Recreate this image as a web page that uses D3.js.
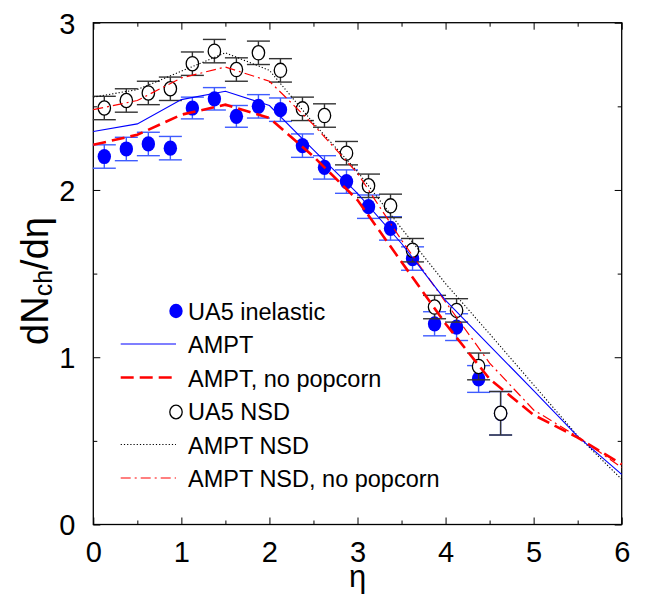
<!DOCTYPE html>
<html><head><meta charset="utf-8">
<script src="https://cdn.jsdelivr.net/npm/d3@7"></script>
<style>
html,body{margin:0;padding:0;background:#fff;}
svg{display:block;font-family:"Liberation Sans",Arial,Helvetica,sans-serif;}
</style></head>
<body>
<svg id="chart" width="655" height="595"></svg>
<script>
// ---- data ----
const etaModel = [0, 0.5, 1, 1.5, 2, 2.5, 3, 3.5, 4, 4.5, 5, 5.5, 6];
const amptInel = [2.35, 2.395, 2.54, 2.59, 2.505, 2.24, 1.98, 1.68, 1.34, 1.07, 0.80, 0.527, 0.30];
const amptNoPopcorn = [2.27, 2.33, 2.45, 2.51, 2.43, 2.20, 1.94, 1.57, 1.20, 0.87, 0.655, 0.52, 0.36];
const amptNSD = [2.555, 2.60, 2.71, 2.82, 2.715, 2.40, 2.11, 1.77, 1.44, 1.14, 0.835, 0.53, 0.27];
const amptNSDNoPopcorn = [2.48, 2.535, 2.67, 2.735, 2.65, 2.39, 2.10, 1.70, 1.33, 0.965, 0.685, 0.525, 0.34];

const etaData = [0.125, 0.375, 0.625, 0.875, 1.125, 1.375, 1.625, 1.875, 2.125, 2.375,
                 2.625, 2.875, 3.125, 3.375, 3.625, 3.875, 4.125, 4.375, 4.625];
const ua5Inel = [2.20, 2.245, 2.275, 2.25, 2.49, 2.545, 2.44, 2.50, 2.48, 2.265,
                 2.135, 2.05, 1.90, 1.77, 1.59, 1.20, 1.18, 0.87, 0.665];
const ua5InelErr = [0.07, 0.07, 0.07, 0.07, 0.065, 0.067, 0.065, 0.07, 0.07, 0.07,
                    0.07, 0.07, 0.07, 0.07, 0.07, 0.072, 0.08, 0.08, 0.13];
const ua5NSD = [2.49, 2.535, 2.58, 2.605, 2.755, 2.83, 2.72, 2.82, 2.715, 2.485,
                2.445, 2.22, 2.025, 1.905, 1.64, 1.30, 1.28, 0.945, 0.665];
const ua5NSDErr = [0.07, 0.07, 0.07, 0.07, 0.07, 0.07, 0.07, 0.07, 0.07, 0.07,
                   0.07, 0.07, 0.07, 0.07, 0.07, 0.07, 0.07, 0.08, 0.13];

const xMajorTicks = [0, 1, 2, 3, 4, 5, 6];
const xMinorTicks = [0.5, 1.5, 2.5, 3.5, 4.5, 5.5];
const yMajorTicks = [0, 1, 2, 3];
const yMinorTicks = [0.5, 1.5, 2.5];
const legendLabels = ["UA5 inelastic", "AMPT", "AMPT, no popcorn", "UA5 NSD", "AMPT NSD", "AMPT NSD, no popcorn"];

// ---- layout ----
const L = 93.3, R = 621.7, T = 22.7, B = 524.5;
const svg = d3.select("#chart");
const x = d3.scaleLinear().domain([0, 6]).range([L, R]);
const y = d3.scaleLinear().domain([0, 3]).range([B, T]);
const FONT = '"Liberation Sans",Arial,Helvetica,sans-serif';

// axes (ticks inward on all four sides)
function styleAxis(g) {
  g.select(".domain").remove();
  g.selectAll(".tick line").attr("stroke", "#000").attr("stroke-width", 1);
}
svg.append("g").attr("transform", `translate(0,${B})`)
  .call(d3.axisBottom(x).tickValues(xMajorTicks).tickSize(-7).tickPadding(14).tickFormat(d3.format("d")))
  .call(styleAxis)
  .call(g => g.selectAll("text").attr("font-size", 29).attr("font-family", FONT).attr("fill", "#000")
    .attr("dy", null).attr("y", 37.5));
svg.append("g").attr("transform", `translate(0,${B})`)
  .call(d3.axisBottom(x).tickValues(xMinorTicks).tickSize(-4).tickFormat(""))
  .call(styleAxis);
svg.append("g").attr("transform", `translate(0,${T})`)
  .call(d3.axisTop(x).tickValues(xMajorTicks).tickSize(-7).tickFormat(""))
  .call(styleAxis);
svg.append("g").attr("transform", `translate(0,${T})`)
  .call(d3.axisTop(x).tickValues(xMinorTicks).tickSize(-4).tickFormat(""))
  .call(styleAxis);
svg.append("g").attr("transform", `translate(${L},0)`)
  .call(d3.axisLeft(y).tickValues(yMajorTicks).tickSize(-7).tickFormat(d3.format("d")))
  .call(styleAxis)
  .call(g => g.selectAll("text").attr("font-size", 29).attr("font-family", FONT).attr("fill", "#000")
    .attr("x", -18).attr("dy", "0.36em"));
svg.append("g").attr("transform", `translate(${L},0)`)
  .call(d3.axisLeft(y).tickValues(yMinorTicks).tickSize(-4).tickFormat(""))
  .call(styleAxis);
svg.append("g").attr("transform", `translate(${R},0)`)
  .call(d3.axisRight(y).tickValues(yMajorTicks).tickSize(-7).tickFormat(""))
  .call(styleAxis);
svg.append("g").attr("transform", `translate(${R},0)`)
  .call(d3.axisRight(y).tickValues(yMinorTicks).tickSize(-4).tickFormat(""))
  .call(styleAxis);

// frame
svg.append("rect").attr("x", L).attr("y", T).attr("width", R - L).attr("height", B - T)
  .attr("fill", "none").attr("stroke", "#000").attr("stroke-width", 1.3);

// ---- data points ----
const CAP = 11.5, RX = 6.7, RY = 7.6;
function errorBars(vals, errs, color) {
  const g = svg.append("g").attr("stroke", color).attr("stroke-width", 1.4).attr("fill", "none");
  etaData.forEach((e, i) => {
    const cx = x(e), y1 = y(vals[i] + errs[i]), y2 = y(vals[i] - errs[i]);
    g.append("line").attr("x1", cx).attr("x2", cx).attr("y1", y1).attr("y2", y2);
    g.append("line").attr("x1", cx - CAP).attr("x2", cx + CAP).attr("y1", y1).attr("y2", y1);
    g.append("line").attr("x1", cx - CAP).attr("x2", cx + CAP).attr("y1", y2).attr("y2", y2);
  });
}
errorBars(ua5Inel, ua5InelErr, "#3f5cff");
svg.append("g").selectAll("ellipse").data(etaData).join("ellipse")
  .attr("cx", d => x(d)).attr("cy", (d, i) => y(ua5Inel[i]))
  .attr("rx", RX).attr("ry", RY).attr("fill", "#0000ff");
errorBars(ua5NSD, ua5NSDErr, "#333333");
svg.append("g").selectAll("ellipse").data(etaData).join("ellipse")
  .attr("cx", d => x(d)).attr("cy", (d, i) => y(ua5NSD[i]))
  .attr("rx", RX - 0.5).attr("ry", RY - 0.5).attr("fill", "#fff").attr("stroke", "#000").attr("stroke-width", 1.3);

// ---- model curves ----
const line = d3.line().x((d, i) => x(etaModel[i])).y(d => y(d));
const styles = {
  ampt:       {color: "#0000ff", width: 1.1, dash: null},
  noPop:      {color: "#ff0000", width: 2.6, dash: "13,6"},
  nsd:        {color: "#000000", width: 1.1, dash: "1.2,2"},
  nsdNoPop:   {color: "#ff0000", width: 1.2, dash: "10,4,2,4"}
};
function curve(vals, s) {
  svg.append("path").datum(vals).attr("d", line).attr("fill", "none")
    .attr("stroke", s.color).attr("stroke-width", s.width)
    .attr("stroke-dasharray", s.dash);
}
curve(amptNSD, styles.nsd);
curve(amptNSDNoPopcorn, styles.nsdNoPop);
curve(amptInel, styles.ampt);
curve(amptNoPopcorn, styles.noPop);

// ---- legend ----
const lg = svg.append("g");
const rowY = i => 319.5 + i * 33.5;
const lx1 = 120.7, lx2 = 176, tx = 188;
legendLabels.forEach((t, i) => {
  lg.append("text").attr("x", tx).attr("y", rowY(i)).attr("font-size", 23.5)
    .attr("font-family", FONT).attr("fill", "#000").text(t);
});
lg.append("ellipse").attr("cx", lx2).attr("cy", rowY(0) - 8.5).attr("rx", RX).attr("ry", RY - 0.4).attr("fill", "#0000ff");
lg.append("ellipse").attr("cx", lx2).attr("cy", rowY(3) - 8).attr("rx", RX - 0.5).attr("ry", RY - 0.8)
  .attr("fill", "#fff").attr("stroke", "#000").attr("stroke-width", 1.3);
[[1, styles.ampt], [2, styles.noPop], [4, styles.nsd], [5, styles.nsdNoPop]].forEach(([i, s]) => {
  lg.append("line").attr("x1", lx1).attr("x2", lx2).attr("y1", rowY(i) - 9).attr("y2", rowY(i) - 9)
    .attr("stroke", s.color).attr("stroke-width", s.width).attr("stroke-dasharray", s.dash);
});

// ---- axis titles ----
svg.append("text").attr("x", (L + R) / 2).attr("y", 587).attr("text-anchor", "middle")
  .attr("font-size", 31).attr("font-family", FONT).text("η");
const yt = svg.append("text").attr("transform", "translate(48,281) rotate(-90)")
  .attr("text-anchor", "middle").attr("font-size", 38).attr("font-family", FONT);
yt.append("tspan").text("dN");
yt.append("tspan").attr("font-size", 25).attr("dy", 4).text("ch");
yt.append("tspan").attr("dy", -4).text("/dη");
</script>
</body></html>
